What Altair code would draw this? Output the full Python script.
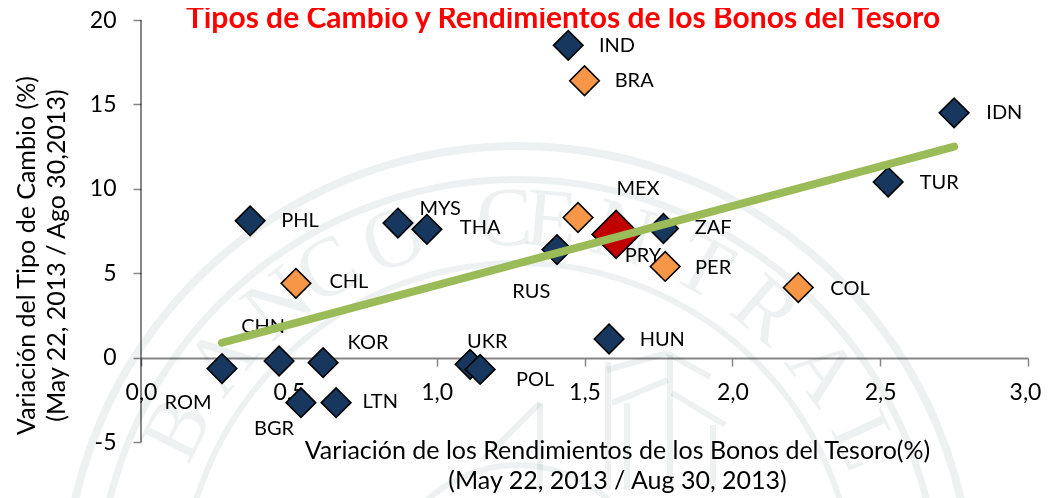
import altair as alt
import pandas as pd
import math

codes = ["IND","BRA","IDN","TUR","MEX","PRY","ZAF","RUS","PER","COL","HUN","PHL","MYS","THA","CHL","CHN","KOR","ROM","BGR","LTN","UKR","POL"]
x_vals = [1.445,1.50,2.75,2.527,1.478,1.607,1.767,1.407,1.773,2.223,1.583,0.369,0.869,0.967,0.524,0.467,0.616,0.274,0.541,0.66,1.113,1.147]
y_vals = [18.5,16.4,14.5,10.4,8.3,7.3,7.65,6.4,5.4,4.15,1.1,8.1,7.97,7.6,4.4,-0.2,-0.3,-0.65,-2.67,-2.67,-0.4,-0.7]
groups = ["Asia","LatAm","Asia","Asia","LatAm","PRY","Asia","Asia","LatAm","LatAm","Asia","Asia","Asia","Asia","LatAm","Asia","Asia","Asia","Asia","Asia","Asia","Asia"]
label_x = [1.610,1.668,2.920,2.700,1.681,1.698,1.935,1.320,1.935,2.398,1.763,0.538,1.012,1.147,0.703,0.413,0.768,0.159,0.450,0.809,1.171,1.333]
label_y = [18.44,16.36,14.52,10.37,9.96,6.0,7.65,3.91,5.33,4.09,1.07,8.12,8.83,7.65,4.45,1.80,0.89,-2.67,-4.21,-2.61,0.95,-1.30]
trend_x = [0.274, 2.75]
trend_y = [0.88, 12.5]
group_names = ["Asia","LatAm","PRY"]
group_colors = ["#17375E","#F79646","#C00000"]
seal_letters = list("BANCOCENTRAL")
seal_angles = [-63.4,-51,-39,-30,-19,-2,5,16,29,40.6,53,65.4]
TITLE = "Tipos de Cambio y Rendimientos de los Bonos del Tesoro"
FONT = "Lato"

pts = pd.DataFrame({"code":codes,"x":x_vals,"y":y_vals,"group":groups,"lx":label_x,"ly":label_y})
trend = pd.DataFrame({"x":trend_x,"y":trend_y})

xs = alt.Scale(domain=[0,3], nice=False, zero=False)
ys = alt.Scale(domain=[-5,20], nice=False, zero=False)

# seal watermark (view coordinates: origin at pixel 141,20)
WM = "#EDF1F1"
OX, OY = 141, 20
CX, CY = 518-OX, 600-OY
rings_out = [458,424,340,138]
rings_in  = [450,417,334,132]
def ring(r, r2):
    return alt.Chart(pd.DataFrame({"a":[0]})).mark_arc(color=WM, radius=r, radius2=r2, theta=0, theta2=6.2832, blend="multiply").encode(
        x=alt.value(CX), y=alt.value(CY))
seal = pd.DataFrame({"t":seal_letters,"a":seal_angles})
seal["px"] = [CX + 380*math.sin(math.radians(a)) for a in seal_angles]
seal["py"] = [CY - 380*math.cos(math.radians(a)) for a in seal_angles]
seal["rot"] = [(a+360)%360 for a in seal_angles]
letters = alt.Chart(seal).mark_text(font="Liberation Serif", fontSize=84, color=WM, baseline="middle", align="center", blend="multiply").encode(
    x=alt.X("px:Q", scale=None), y=alt.Y("py:Q", scale=None), text="t:N", angle=alt.Angle("rot:Q", scale=None))
building = [(608,362,608,490),(670,355,670,490),(612,403,668,380),(627,403,627,490),
            (672,393,725,425),(713,425,713,490),(483,460,540,403),(540,403,540,490),
            (607,370,667,353),(667,353,710,377)]
def seg(a, b, c, d):
    return alt.Chart(pd.DataFrame({"a":[0]})).mark_rule(color=WM, strokeWidth=6, blend="multiply").encode(
        x=alt.value(a-OX), y=alt.value(b-OY), x2=alt.value(c-OX), y2=alt.value(d-OY))
wm = alt.layer(*[ring(a,b) for a,b in zip(rings_out, rings_in)], *[seg(*s) for s in building], letters)

y_line = alt.Chart(pd.DataFrame({"x":[0],"y":[-5],"y2":[20]})).mark_rule(color="#868686", strokeWidth=2, blend="multiply").encode(
    x=alt.X("x:Q", scale=xs), y=alt.Y("y:Q", scale=ys), y2="y2:Q")

x_axis = alt.Axis(values=[0,0.5,1,1.5,2,2.5,3], offset=-84, orient="bottom", grid=False,
    labelExpr="replace(format(datum.value,'.1f'),'.',',')", labelFontSize=23, labelFont=FONT, labelColor="#000",
    labelOffset={"condition":{"test":"datum.value === 3","value":-3},"value":0},
    labelPadding=15, tickSize=8, tickColor="#868686", tickWidth=1.5, domainColor="#868686", domainWidth=2,
    title=["Variación de los Rendimientos de los Bonos del Tesoro(%)","(May 22, 2013 / Aug 30, 2013)"],
    titleFont=FONT, titleFontSize=25, titleFontWeight="normal", titleColor="#000", titleX=476, titleY=92, titleBaseline="middle", titleLineHeight=30, labelFlush=False)
y_axis = alt.Axis(values=[-5,0,5,10,15,20], grid=False, labelFontSize=23, labelFont=FONT, labelColor="#000",
    labelExpr="'' + datum.value", domain=False,
    labelPadding=17, tickSize=8, tickColor="#868686", tickWidth=1.5,
    title=["Variación del Tipo de Cambio (%)","(May 22, 2013 / Ago 30,2013)"],
    titleFont=FONT, titleFontSize=25, titleFontWeight="normal", titleColor="#000", titleX=-115, titleY=235, titleBaseline="middle", titleAngle=-90, titleLineHeight=30)

base = alt.Chart(pts)
points = base.transform_filter("datum.group != 'PRY'").mark_point(shape="diamond", filled=True, size=875, stroke="#000", strokeWidth=1.6, opacity=1).encode(
    x=alt.X("x:Q", scale=xs, axis=x_axis), y=alt.Y("y:Q", scale=ys, axis=y_axis),
    color=alt.Color("group:N", scale=alt.Scale(domain=group_names, range=group_colors), legend=None))
big = base.transform_filter("datum.group == 'PRY'").mark_point(shape="diamond", filled=True, size=2300, stroke="#000", strokeWidth=1.6, opacity=1).encode(
    x=alt.X("x:Q", scale=xs), y=alt.Y("y:Q", scale=ys),
    color=alt.Color("group:N", scale=alt.Scale(domain=group_names, range=group_colors), legend=None))
line = alt.Chart(trend).mark_line(color="#9BBB59", strokeWidth=8, strokeCap="round").encode(
    x=alt.X("x:Q", scale=xs), y=alt.Y("y:Q", scale=ys))
labels = base.mark_text(font=FONT, fontSize=20, color="#000").encode(
    x=alt.X("lx:Q", scale=xs), y=alt.Y("ly:Q", scale=ys), text="code:N")
title = alt.Chart(pd.DataFrame({"t":[TITLE]})).mark_text(font=FONT, fontSize=30, fontWeight="bold", color="#FF0000", baseline="alphabetic", align="center").encode(
    x=alt.value(422), y=alt.value(8), text="t:N")

chart = alt.layer(wm, y_line, points, big, labels, line, title).properties(
    width=887, height=422,
    padding={"left":133,"top":12,"right":13,"bottom":56},
    autosize=alt.AutoSizeParams(type="none"),
).configure_view(stroke=None).resolve_scale(color="independent")

chart.save("out.html", embed_options={"renderer":"svg","actions":False})
